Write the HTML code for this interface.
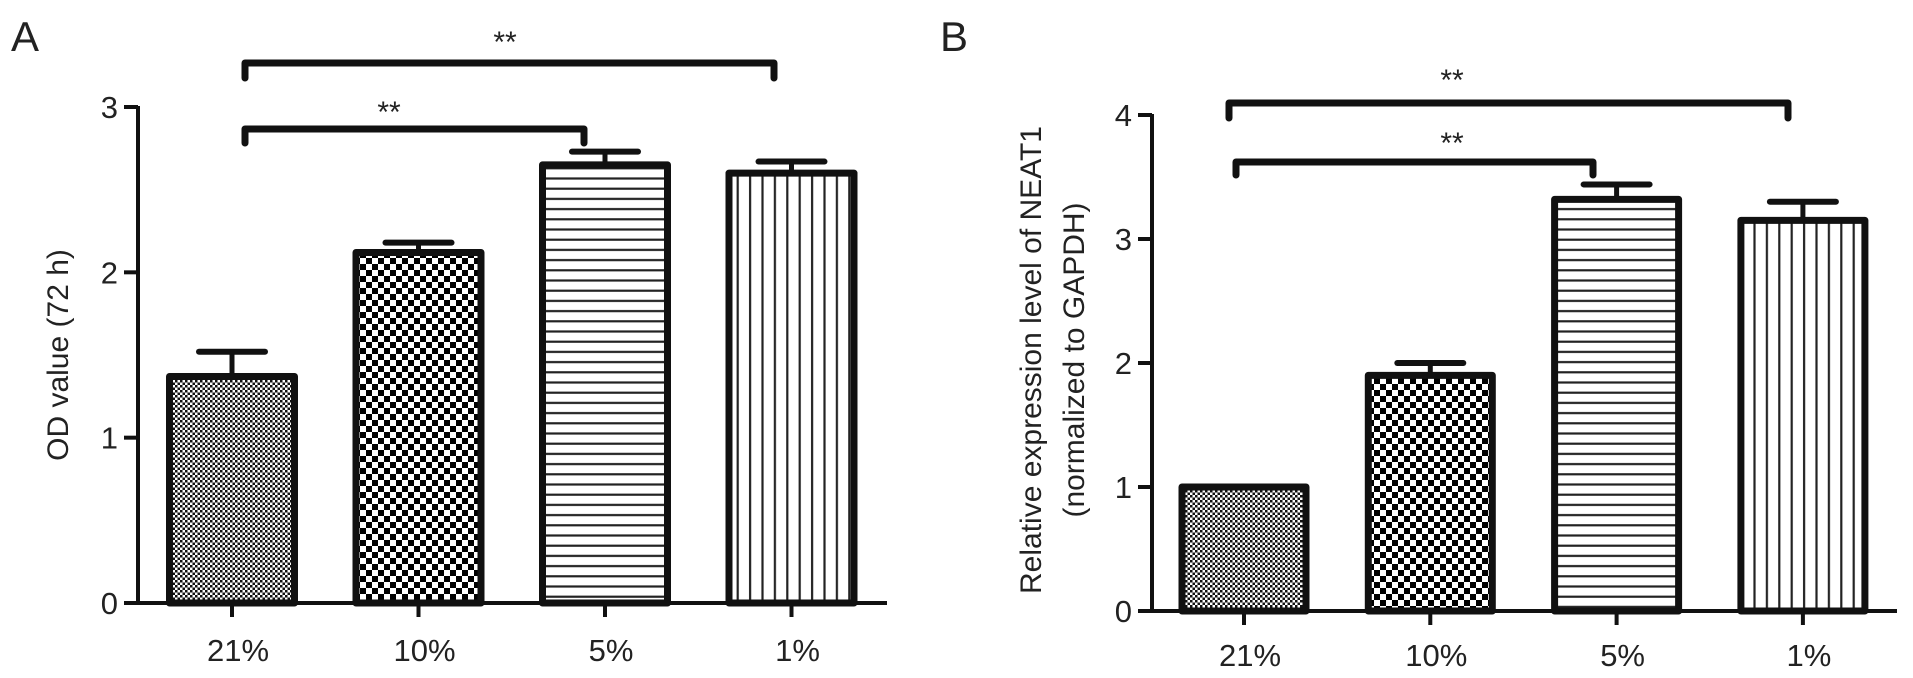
<!DOCTYPE html>
<html><head><meta charset="utf-8"><style>
html,body{margin:0;padding:0;background:#fff;}
svg{display:block;font-family:"Liberation Sans",Arial,sans-serif;}
</style></head><body>
<svg id="fig" width="1913" height="678" viewBox="0 0 1913 678" xmlns="http://www.w3.org/2000/svg">
<defs>
<pattern id="p0" width="5" height="5" patternUnits="userSpaceOnUse"><rect width="5" height="5" fill="#fff"/><rect width="2.5" height="2.5" fill="#111"/><rect x="2.5" y="2.5" width="2.5" height="2.5" fill="#111"/></pattern>
<pattern id="p1" width="12" height="12" patternUnits="userSpaceOnUse"><rect width="12" height="12" fill="#fff"/><rect width="6" height="6" fill="#000"/><rect x="6" y="6" width="6" height="6" fill="#000"/></pattern>
<pattern id="p2" width="10" height="10.2" patternUnits="userSpaceOnUse"><rect width="10" height="10.2" fill="#fff"/><rect y="4" width="10" height="2.2" fill="#222"/></pattern>
<pattern id="p3" width="12.4" height="10" patternUnits="userSpaceOnUse"><rect width="12.4" height="10" fill="#fff"/><rect x="5" width="2.2" height="10" fill="#222"/></pattern>
</defs>
<g id="gA"></g>
<g id="gB"></g>
</svg>
<script>
const categories = ["21%", "10%", "5%", "1%"];
const valuesA = [1.37, 2.12, 2.65, 2.60];
const errorsA = [0.15, 0.06, 0.08, 0.07];
const ticksA = [0, 1, 2, 3];
const valuesB = [1.0, 1.90, 3.32, 3.15];
const errorsB = [0.0, 0.10, 0.12, 0.15];
const ticksB = [0, 1, 2, 3, 4];

const NS = "http://www.w3.org/2000/svg";
function mk(parent, tag, attrs, text){
  const e = document.createElementNS(NS, tag);
  for (const k in attrs) e.setAttribute(k, attrs[k]);
  if (text !== undefined) e.textContent = text;
  parent.appendChild(e);
  return e;
}
function panel(g, cfg){
  const y = v => cfg.y0 - (v - 0) * (cfg.y0 - cfg.yTop) / (cfg.yMax);
  const x = i => cfg.x0 + i * cfg.step;
  let ax = mk(g, "line", {x1:cfg.axisX, y1:y(cfg.yMax)-1, x2:cfg.axisX, y2:cfg.y0, stroke:"#111","stroke-width":4});
  
  
  let bx = mk(g, "line", {x1:cfg.axisX-14, y1:cfg.y0, x2:cfg.xEnd, y2:cfg.y0, stroke:"#111","stroke-width":4});
  
  
  cfg.ticks.forEach(t => {
    let tl = mk(g, "line", {x1:cfg.axisX-14, y1:y(t), x2:cfg.axisX, y2:y(t), stroke:"#111","stroke-width":4});
    
    
    let tx = mk(g, "text", {x:cfg.axisX-20, y:y(t)+11, "text-anchor":"end", "font-size":31, fill:"#222"}, String(t));
    
    
  });
  cfg.values.forEach((v, i) => {
    const cx = x(i), w = cfg.barW;
    if (cfg.errors[i] > 0){
      let e1 = mk(g, "line", {x1:cx, y1:y(v), x2:cx, y2:y(v+cfg.errors[i]), stroke:"#111","stroke-width":5});
      
      
      let e2 = mk(g, "line", {x1:cx-33, y1:y(v+cfg.errors[i]), x2:cx+33, y2:y(v+cfg.errors[i]), stroke:"#111","stroke-width":6,"stroke-linecap":"round"});
      
      
    }
    let r = mk(g, "rect", {x:cx-w/2, y:y(v), width:w, height:cfg.y0-y(v), fill:"url(#p"+i+")", stroke:"#111","stroke-width":7,"stroke-linejoin":"round"});
    
    
    let tk = mk(g, "line", {x1:cx, y1:cfg.y0, x2:cx, y2:cfg.y0+14, stroke:"#111","stroke-width":4});
    
    
    let lb = mk(g, "text", {x:cx+6, y:cfg.labelY, "text-anchor":"middle", "font-size":31, fill:"#222"}, categories[i]);
    
    
  });
  cfg.brackets.forEach(b => {
    let p = mk(g, "path", {d:`M${b.x1},${b.yd} L${b.x1},${b.y} L${b.x2},${b.y} L${b.x2},${b.yd}`, fill:"none", stroke:"#111","stroke-width":7,"stroke-linejoin":"round","stroke-linecap":"round"});
    
    
    let s = mk(g, "text", {x:b.sx, y:b.sy, "text-anchor":"middle", "font-size":30, fill:"#222"}, "**");
    
    
  });
}
const gA = document.getElementById("gA");
const gB = document.getElementById("gB");
panel(gA, {axisX:138, y0:603, yTop:107, yMax:3, x0:232, step:186.5, barW:125, xEnd:887, labelY:661,
  values:valuesA, errors:errorsA, ticks:ticksA,
  brackets:[{x1:245,x2:774,y:63,yd:78,sx:505,sy:52},{x1:245,x2:584,y:129,yd:143,sx:389,sy:122}]});
panel(gB, {axisX:1152, y0:611, yTop:115, yMax:4, x0:1244, step:186.3, barW:124, xEnd:1897, labelY:666,
  values:valuesB, errors:errorsB, ticks:ticksB,
  brackets:[{x1:1229,x2:1788,y:103,yd:118,sx:1452,sy:90},{x1:1236,x2:1593,y:162,yd:175,sx:1452,sy:153}]});
</script>
<script>
const f = document.getElementById("fig");
function t(x,y,s,txt,name,rot){
  const e = document.createElementNS("http://www.w3.org/2000/svg","text");
  e.setAttribute("x",x); e.setAttribute("y",y); e.setAttribute("font-size",s);
  e.setAttribute("fill","#222"); e.setAttribute("text-anchor", rot ? "middle" : "start");
  if (rot) e.setAttribute("transform", `rotate(-90 ${x} ${y})`);
  e.textContent = txt;
  
  
  f.appendChild(e);
}
t(11,51,42,"A","panel-label-a",false);
t(940,51,42,"B","panel-label-b",false);
t(68,355,30,"OD value (72 h)","y-axis-title-a",true);
t(1041,360,30,"Relative expression level of NEAT1","y-axis-title-b",true);
t(1084,360,30,"(normalized to GAPDH)","y-axis-title-b-line2",true);
</script>
</body></html>
